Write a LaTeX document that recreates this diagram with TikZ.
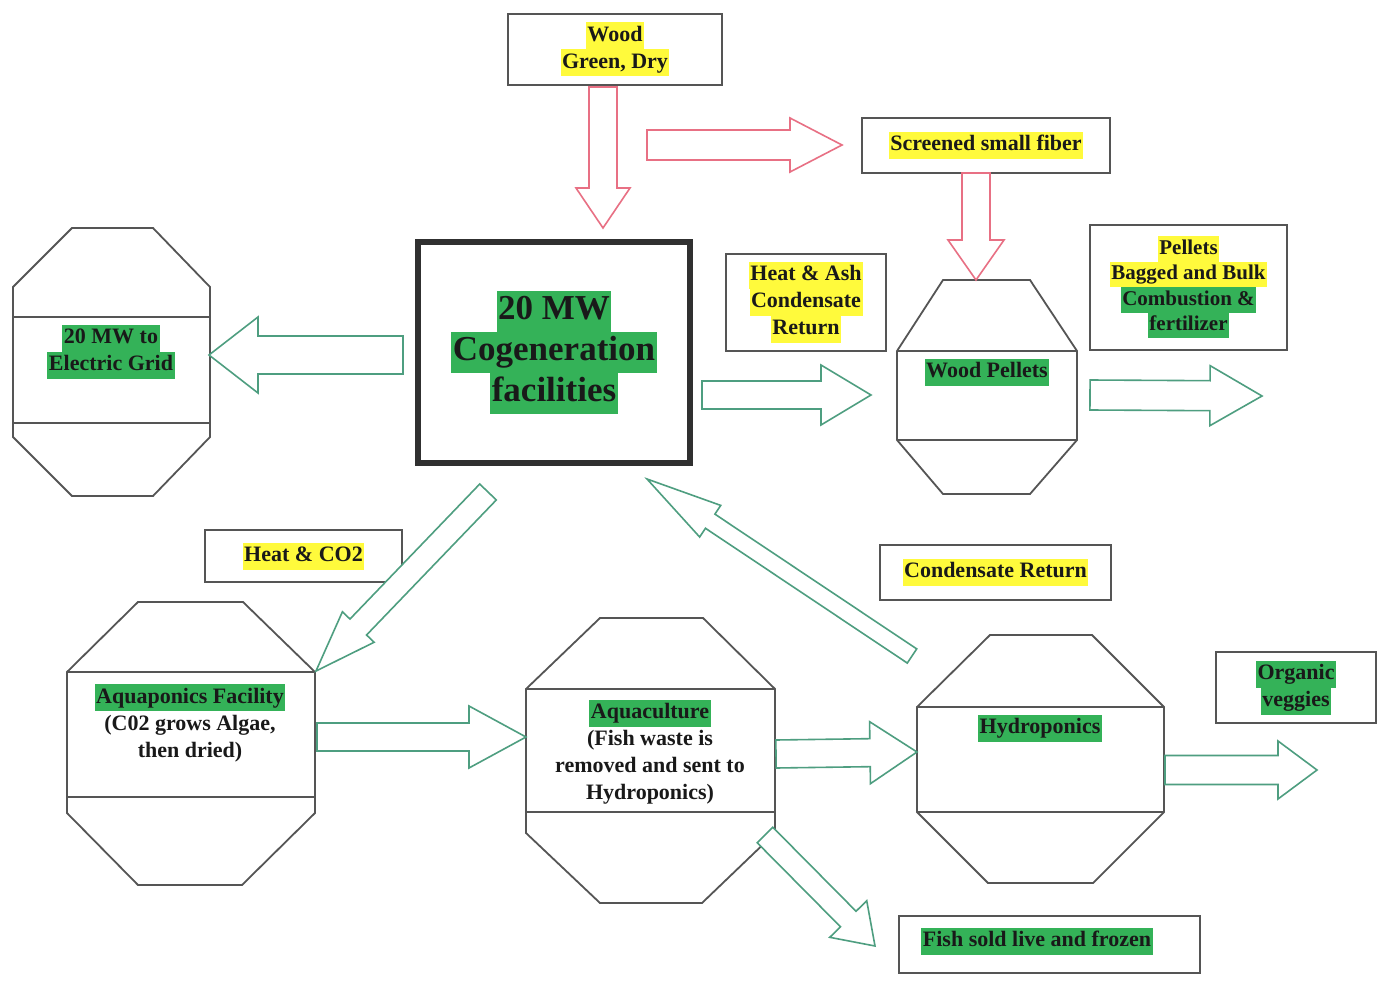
\documentclass[tikz,border=0pt]{standalone}
\usepackage{fontspec}
\setmainfont{Liberation Serif}
\usetikzlibrary{calc}
\definecolor{hlgreen}{RGB}{52,178,88}
\definecolor{hlyellow}{RGB}{255,250,60}
\definecolor{arrgreen}{RGB}{78,158,128}
\definecolor{arrred}{RGB}{232,112,132}
\definecolor{linegray}{RGB}{85,85,85}
\definecolor{txtblack}{RGB}{25,25,25}
\newcommand\hlg[1]{{\setlength\fboxsep{0pt}\colorbox{hlgreen}{\strut\hspace{1.5pt}#1\hspace{1.5pt}}}}
\newcommand\hly[1]{{\setlength\fboxsep{0pt}\colorbox{hlyellow}{\strut\hspace{1.5pt}#1\hspace{1.5pt}}}}
% block arrow: #1 tail, #2 tip, #3 half shaft, #4 half head, #5 head length, #6 style
\newcommand\blockarr[6]{%
  \coordinate (bh) at ($(#2)!#5!(#1)$);
  \draw[#6] ($(#1)!#3!90:(#2)$) -- ($(bh)!#3!90:(#2)$) -- ($(bh)!#4!90:(#2)$) -- (#2)
    -- ($(bh)!#4!-90:(#2)$) -- ($(bh)!#3!-90:(#2)$) -- ($(#1)!#3!-90:(#2)$) -- cycle;
}
\tikzset{
  txt/.style={font=\fontsize{22}{27}\selectfont\bfseries, align=center, inner sep=0pt, text=txtblack},
  boxx/.style={draw=linegray, line width=1.8pt, fill=white, txt},
  octo/.style={draw=linegray, line width=1.8pt, line join=miter},
  garrow/.style={draw=arrgreen, line width=1.6pt, fill=white, line join=miter},
  rarrow/.style={draw=arrred, line width=1.6pt, fill=white, line join=miter},
}
\begin{document}
\begin{tikzpicture}[x=1pt, y=-1pt]
\useasboundingbox[fill=white] (0,0) rectangle (1383,981);

% ---------- boxes ----------
\node[boxx, minimum width=214pt, minimum height=71pt] (wood) at (615,49.5) {\hly{Wood}\\\hly{Green, Dry}};
\node[boxx, minimum width=248pt, minimum height=55pt] (fiber) at (986,145.5) {\hly{Screened small fiber}};
\node[draw=txtblack!90, line width=6.5pt, minimum width=272pt, minimum height=221pt, inner sep=0pt,
      font=\fontsize{35}{41}\selectfont\bfseries, align=center, text=txtblack] (cogen) at (554,352.5)
      {\hlg{20 MW}\\\hlg{Cogeneration}\\\hlg{facilities}};
\node[boxx, minimum width=160pt, minimum height=97pt] (heatash) at (806,302.5) {\hly{Heat \& Ash}\\\hly{Condensate}\\\hly{Return}};
\node[boxx, minimum width=197pt, minimum height=125pt, font=\fontsize{21}{25.5}\selectfont\bfseries] (pellbox) at (1188.5,287.5)
      {\hly{Pellets}\\\hly{Bagged and Bulk}\\\hlg{Combustion \&}\\\hlg{fertilizer}};
\node[boxx, minimum width=197pt, minimum height=52pt] (heatco) at (303.5,556) {\hly{Heat \& CO2}};
\node[boxx, minimum width=231pt, minimum height=55pt] (condret) at (995.5,572.5) {\hly{Condensate Return}};
\node[boxx, minimum width=160pt, minimum height=71pt] (organic) at (1296,687.5) {\hlg{Organic}\\\hlg{veggies}};
\node[boxx, minimum width=301pt, minimum height=57pt] (fishbox) at (1049.5,944.5) {};
\node[txt] (fishtxt) at (1037,941) {\hlg{Fish sold live and frozen}};

% ---------- octagons ----------
% grid
\draw[octo] (72,228) -- (153,228) -- (210,287) -- (210,437) -- (153,496) -- (72,496) -- (13,437) -- (13,287) -- cycle;
\draw[octo] (13,317) -- (210,317) (13,423) -- (210,423);
\node[txt] (grid) at (111,352) {\hlg{20 MW to}\\\hlg{Electric Grid}};
% wood pellets
\draw[octo] (943,280) -- (1030,280) -- (1077,351) -- (1077,440) -- (1030,494) -- (943,494) -- (897,440) -- (897,351) -- cycle;
\draw[octo] (897,351) -- (1077,351) (897,440) -- (1077,440);
\node[txt] (pellets) at (987,372) {\hlg{Wood Pellets}};
% aquaponics
\draw[octo] (138,602) -- (243,602) -- (315,672) -- (315,813) -- (242,885) -- (138,885) -- (67,813) -- (67,672) -- cycle;
\draw[octo] (67,672) -- (315,672) (67,797) -- (315,797);
\node[txt] (aquaponics) at (190,723) {\hlg{Aquaponics Facility}\\(C02 grows Algae,\\then dried)};
% aquaculture
\draw[octo] (600,618) -- (703,618) -- (775,689) -- (775,833) -- (702,903) -- (600,903) -- (526,833) -- (526,689) -- cycle;
\draw[octo] (526,689) -- (775,689) (526,812) -- (775,812);
\node[txt] (aquaculture) at (650,752) {\hlg{Aquaculture}\\(Fish waste is\\removed and sent to\\Hydroponics)};
% hydroponics
\draw[octo] (990,635) -- (1092,635) -- (1164,707) -- (1164,812) -- (1093,883) -- (988,883) -- (917,812) -- (917,707) -- cycle;
\draw[octo] (917,707) -- (1164,707) (917,812) -- (1164,812);
\node[txt] (hydro) at (1040,728) {\hlg{Hydroponics}};

% ---------- connector end points ----------
\coordinate (a1t) at (603,87);   \coordinate (a1h) at (603,228);
\coordinate (a2t) at (647,145);  \coordinate (a2h) at (842,145);
\coordinate (a3t) at (976,173);  \coordinate (a3h) at (976,280);
\coordinate (g1t) at (403,355);  \coordinate (g1h) at (209,355);
\coordinate (g2t) at (702,395);  \coordinate (g2h) at (871,395);
\coordinate (g3t) at (1090,395); \coordinate (g3h) at (1262,396);
\coordinate (g4t) at (488,492);  \coordinate (g4h) at (316,671);
\coordinate (g5t) at (912,656);  \coordinate (g5h) at (647,479);
\coordinate (g6t) at (317,737);  \coordinate (g6h) at (526,737);
\coordinate (g7t) at (776,754);  \coordinate (g7h) at (917,752);
\coordinate (g8t) at (765,835);  \coordinate (g8h) at (875,946);
\coordinate (g9t) at (1165,770); \coordinate (g9h) at (1317,770);

% ---------- block arrows ----------
\blockarr{a1t}{a1h}{14pt}{27pt}{40pt}{rarrow}
\blockarr{a2t}{a2h}{15pt}{27pt}{52pt}{rarrow}
\blockarr{a3t}{a3h}{14pt}{28pt}{40pt}{rarrow}
\blockarr{g1t}{g1h}{19pt}{38pt}{49pt}{garrow}
\blockarr{g2t}{g2h}{14pt}{30pt}{50pt}{garrow}
\blockarr{g3t}{g3h}{15pt}{30pt}{52pt}{garrow}
\blockarr{g4t}{g4h}{11.5pt}{22pt}{61pt}{garrow}
\blockarr{g5t}{g5h}{8.5pt}{19pt}{76pt}{garrow}
\blockarr{g6t}{g6h}{14pt}{31pt}{57pt}{garrow}
\blockarr{g7t}{g7h}{14pt}{31pt}{47pt}{garrow}
\blockarr{g8t}{g8h}{11pt}{26pt}{38pt}{garrow}
\blockarr{g9t}{g9h}{14.5pt}{29pt}{39pt}{garrow}
\end{tikzpicture}
\end{document}
